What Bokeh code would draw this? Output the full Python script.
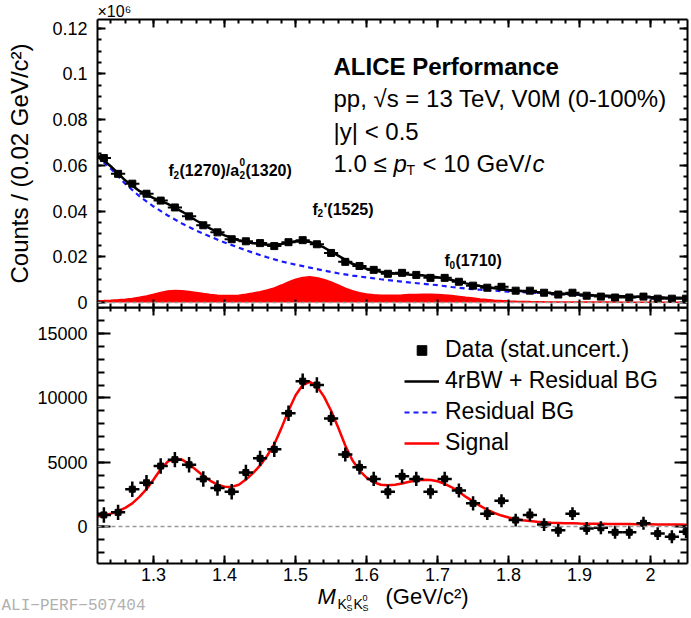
from bokeh.plotting import figure
from bokeh.models import (Range1d, LinearAxis, SingleIntervalTicker, CustomJSTickFormatter,
                          Span, Label, Legend, LegendItem, Title, Plot)
from bokeh.layouts import column
from bokeh.embed import file_html
from bokeh.resources import INLINE

# ---------------- data ----------------
mass = [1.23, 1.25, 1.27, 1.29, 1.31, 1.33, 1.35, 1.37, 1.39, 1.41, 1.43, 1.45, 1.47, 1.49,
        1.51, 1.53, 1.55, 1.57, 1.59, 1.61, 1.63, 1.65, 1.67, 1.69, 1.71, 1.73, 1.75, 1.77,
        1.79, 1.81, 1.83, 1.85, 1.87, 1.89, 1.91, 1.93, 1.95, 1.97, 1.99, 2.01, 2.03, 2.05]
bin_half = 0.01

# top panel: counts per bin, in units of 10^6
counts = [0.0632, 0.0563, 0.0520, 0.0476, 0.0446, 0.0416, 0.0377, 0.0338, 0.0307, 0.0277,
          0.0268, 0.0260, 0.0247, 0.0264, 0.0273, 0.0255, 0.0217, 0.0178, 0.0160, 0.0143,
          0.0126, 0.0130, 0.0121, 0.0108, 0.0108, 0.0091, 0.0074, 0.0065, 0.0069, 0.0052,
          0.0052, 0.0043, 0.0035, 0.0043, 0.0030, 0.0026, 0.0022, 0.0022, 0.0026, 0.0017,
          0.0017, 0.0017]

# bottom panel: residual (data - residual BG)
residual = [900, 1100, 2900, 3400, 4700, 5200, 4800, 3700, 3000, 2700, 4200, 5300, 6000, 8800,
            11300, 11000, 8400, 5600, 4600, 3700, 2700, 3900, 3700, 2700, 3700, 2800, 1800, 1000,
            2000, 500, 900, 150, -300, 1000, -150, -100, -450, -450, 250, -550, -800, -400]
residual_err = [600, 600, 600, 600, 600, 600, 600, 600, 600, 600, 600, 600, 600, 600,
                600, 600, 550, 550, 550, 550, 550, 550, 550, 550, 550, 550, 550, 500,
                500, 500, 500, 500, 500, 500, 500, 500, 500, 500, 500, 500, 500, 500]

# residual background fit (units of 10^6)
bg_x = [1.22, 1.24, 1.26, 1.28, 1.30, 1.32, 1.34, 1.36, 1.38, 1.40, 1.42, 1.44, 1.46, 1.48,
        1.50, 1.52, 1.54, 1.56, 1.58, 1.60, 1.62, 1.64, 1.66, 1.68, 1.70, 1.72, 1.74, 1.76,
        1.78, 1.80, 1.82, 1.84, 1.86, 1.88, 1.90, 1.92, 1.94, 1.96, 1.98, 2.00, 2.02, 2.04, 2.06]
bg_fit = [0.0640, 0.0585, 0.0520, 0.0465, 0.0420, 0.0381, 0.0346, 0.0315, 0.0288, 0.0263,
          0.0240, 0.0218, 0.0198, 0.0180, 0.0166, 0.0153, 0.0140, 0.0128, 0.0118, 0.0110,
          0.0102, 0.0095, 0.0088, 0.0082, 0.0076, 0.0068, 0.0061, 0.0056, 0.0052, 0.0048,
          0.0045, 0.0042, 0.0039, 0.0036, 0.0033, 0.0030, 0.0028, 0.0026, 0.0024, 0.0022,
          0.0020, 0.0019, 0.0018]

# signal (4 rBW) fit, counts
sig_x = [1.22, 1.23, 1.24, 1.25, 1.26, 1.27, 1.28, 1.29, 1.30, 1.31, 1.32, 1.33, 1.34, 1.35,
         1.36, 1.37, 1.38, 1.39, 1.40, 1.41, 1.42, 1.43, 1.44, 1.45, 1.46, 1.47, 1.48, 1.49,
         1.50, 1.51, 1.52, 1.53, 1.54, 1.55, 1.56, 1.57, 1.58, 1.59, 1.60, 1.61, 1.62, 1.63,
         1.64, 1.65, 1.66, 1.67, 1.68, 1.69, 1.70, 1.71, 1.72, 1.73, 1.74, 1.75, 1.76, 1.77,
         1.78, 1.79, 1.80, 1.81, 1.82, 1.83, 1.84, 1.85, 1.86, 1.87, 1.88, 1.89, 1.90, 1.91,
         1.92, 1.93, 1.94, 1.95, 1.96, 1.97, 1.98, 1.99, 2.00, 2.01, 2.02, 2.03, 2.04, 2.05, 2.06]
sig_fit = [750, 850, 1000, 1200, 1450, 1800, 2300, 2900, 3650, 4450, 5050, 5300, 5200, 4850,
           4400, 3950, 3550, 3250, 3100, 3080, 3250, 3650, 4150, 4750, 5500, 6400, 7650, 9000,
           10200, 11000, 11250, 10900, 10100, 9000, 7700, 6300, 5150, 4350, 3800, 3450, 3250, 3200,
           3250, 3350, 3480, 3580, 3630, 3620, 3520, 3320, 3050, 2700, 2300, 1950, 1600, 1300,
           1050, 850, 700, 580, 490, 420, 370, 330, 300, 280, 260, 245, 230, 220,
           210, 205, 200, 195, 190, 185, 180, 175, 170, 165, 160, 155, 150, 145, 140]

y_tick_top = 0.02
y_tick_bottom = 5000
x_tick = 0.1

# ---------------- geometry ----------------
W = 690
LEFT, RIGHT = 97, 3
X0, X1 = 1.221, 2.052
FRAME_L = 98
PXX = 590 / (X1 - X0)
YT0, YT1 = -0.00216, 0.1238     # top panel range (x10^6)
YB0, YB1 = -2877, 17030         # bottom panel range
FONT = "Liberation Sans"
OVER = 8                        # overlap of top canvas into bottom panel (for the "0" label)
OVER3 = 6                       # overlap of the title strip into the bottom panel border
HAS_FA = "frame_align" in Plot.properties()


def dx(px):
    return X0 + (px - FRAME_L) / PXX


def dyt(py):
    return YT1 - (py - 17) * (YT1 - YT0) / 291


def style_axis(ax, major, minor, labels=True, size="18px", standoff=10):
    ax.axis_line_width = 2
    ax.axis_line_color = "black"
    ax.major_tick_in = major
    ax.major_tick_out = 0
    ax.minor_tick_in = minor
    ax.minor_tick_out = 0
    ax.major_tick_line_width = 2
    ax.minor_tick_line_width = 2
    ax.major_tick_line_color = "black"
    ax.minor_tick_line_color = "black"
    ax.major_label_text_font = FONT
    ax.major_label_text_color = "black"
    if labels:
        ax.major_label_text_font_size = size
        ax.major_label_standoff = standoff
    else:
        ax.major_label_text_font_size = "0px"
        ax.major_label_standoff = 0
        ax.major_label_text_alpha = 0


fmt2 = CustomJSTickFormatter(code="return tick.toFixed(2).replace(/\\.?0+$/, '');")
fmt1 = CustomJSTickFormatter(code="return tick.toFixed(1).replace(/\\.?0+$/, '');")


def lab(fig, x, y, text, size, style="normal", color="black", font=FONT):
    fig.add_layout(Label(x=x, y=y, text=text, text_font=font,
                         text_font_size=f"{size}px", text_font_style=style,
                         text_color=color, text_baseline="alphabetic", text_align="left"))


def labt(xpx, ypx, text, size, style="normal"):
    lab(p1, dx(xpx), dyt(ypx), text, size, style)


# ---------------- top panel ----------------
p1 = figure(width=W, height=307 + OVER, x_range=Range1d(X0, X1), y_range=Range1d(YT0, YT1),
            output_backend="svg", toolbar_location=None,
            min_border_left=LEFT, min_border_right=RIGHT, min_border_top=16,
            min_border_bottom=OVER)
p1.grid.visible = False
p1.outline_line_color = None
p1.background_fill_color = "white"
p1.border_fill_color = "white"

xt = SingleIntervalTicker(interval=x_tick, num_minor_ticks=5)
yt1 = SingleIntervalTicker(interval=y_tick_top, num_minor_ticks=4)
p1.xaxis.ticker = xt
p1.yaxis.ticker = yt1
p1.yaxis.formatter = fmt2
style_axis(p1.xaxis[0], 8, 4, labels=False)
style_axis(p1.yaxis[0], 8, 4, labels=True)
p1.yaxis.axis_label = "Counts / (0.02 GeV/c²)"
p1.yaxis.axis_label_text_font = FONT
p1.yaxis.axis_label_text_font_size = "24px"
p1.yaxis.axis_label_text_font_style = "normal"
p1.yaxis.axis_label_text_color = "black"
p1.yaxis.axis_label_standoff = 16
ax_r1 = LinearAxis(ticker=yt1)
style_axis(ax_r1, 8, 4, labels=False)
p1.add_layout(ax_r1, "right")
ax_t1 = LinearAxis(ticker=xt)
style_axis(ax_t1, 8, 4, labels=False)
p1.add_layout(ax_t1, "above")
p1.add_layout(Title(text="×10⁶", align="left", text_font=FONT, text_font_size="16px",
                    text_font_style="normal", text_color="black", standoff=0,
                    text_line_height=1.0), "above")

p1.add_layout(Span(location=0, dimension="width", line_color="#999999", line_dash="4 3",
                   line_width=1.5))

sig_top = [s / 1e6 for s in sig_fit]
p1.varea(x=sig_x, y1=[0] * len(sig_x), y2=sig_top, fill_color="#ff0000")
p1.line(x=sig_x, y=sig_top, line_color="#ff0000", line_width=1.5)

p1.line(x=bg_x, y=bg_fit, line_color="#1a1aff", line_width=2.2, line_dash="5 4")
total_fit = [b + s / 1e6 for b, s in zip(bg_fit, sig_fit[::2])]
p1.line(x=bg_x, y=total_fit, line_color="black", line_width=2.5)

p1.segment(x0=[m - bin_half for m in mass], x1=[m + bin_half for m in mass],
           y0=counts, y1=counts, line_color="black", line_width=2)
p1.segment(x0=mass, x1=mass, y0=[c - e / 1e6 for c, e in zip(counts, residual_err)],
           y1=[c + e / 1e6 for c, e in zip(counts, residual_err)], line_color="black", line_width=2)
p1.scatter(x=mass, y=counts, marker="square", size=7, fill_color="black", line_color="black")

# texts top panel
labt(334, 64, "ALICE Performance", 24, "bold")
labt(334, 97, "pp, √s = 13 TeV, V0M (0-100%)", 24)
labt(334, 130, "|y| < 0.5", 24)
labt(334, 163, "1.0 ≤", 24)
labt(394, 163, "p", 24, "italic")
labt(407, 169, "T", 14)
labt(423, 163, "< 10 GeV/", 24)
labt(533, 163, "c", 24, "italic")

labt(169, 170, "f", 16, "bold")
labt(174, 174, "2", 10, "bold")
labt(180, 170, "(1270)/a", 16, "bold")
labt(240, 161, "0", 10, "bold")
labt(240, 174, "2", 10, "bold")
labt(246, 170, "(1320)", 16, "bold")

labt(313, 209, "f", 16, "bold")
labt(318, 213, "2", 10, "bold")
labt(324, 209, "'(1525)", 16, "bold")

labt(445, 261, "f", 16, "bold")
labt(450, 265, "0", 10, "bold")
labt(456, 261, "(1710)", 16, "bold")

# ---------------- bottom panel ----------------
p2 = figure(width=W, height=281, x_range=p1.x_range, y_range=Range1d(YB0, YB1),
            output_backend="svg", toolbar_location=None,
            min_border_left=LEFT, min_border_right=RIGHT, min_border_top=0, min_border_bottom=25)
p2.grid.visible = False
p2.outline_line_color = None
p2.background_fill_alpha = 0
p2.border_fill_alpha = 0
p2.margin = (-OVER, 0, 0, 0)
p2.extra_y_ranges = {"hidden": Range1d(-2, -1)}

xt2 = SingleIntervalTicker(interval=x_tick, num_minor_ticks=5)
yt2 = SingleIntervalTicker(interval=y_tick_bottom, num_minor_ticks=5)
p2.xaxis.ticker = xt2
p2.xaxis.formatter = fmt1
p2.yaxis.ticker = yt2
style_axis(p2.xaxis[0], 8, 4, labels=True, standoff=4)
style_axis(p2.yaxis[0], 13, 7, labels=True)
ax_r2 = LinearAxis(ticker=yt2)
style_axis(ax_r2, 13, 7, labels=False)
p2.add_layout(ax_r2, "right")
ax_t2 = LinearAxis(ticker=xt2)
style_axis(ax_t2, 8, 4, labels=False)
p2.add_layout(ax_t2, "above")

p2.add_layout(Span(location=0, dimension="width", line_color="#999999", line_dash="4 3",
                   line_width=1.5))

r_sig = p2.line(x=sig_x, y=sig_fit, line_color="#ff0000", line_width=2.5)
# fit curves of the top panel, registered here (out of view) only for the legend
r_tot = p2.line(x=bg_x, y=total_fit, y_range_name="hidden", line_color="black", line_width=2.5)
r_bg = p2.line(x=bg_x, y=bg_fit, y_range_name="hidden", line_color="#1a1aff",
               line_width=2.2, line_dash="5 4")

p2.segment(x0=[m - bin_half for m in mass], x1=[m + bin_half for m in mass],
           y0=residual, y1=residual, line_color="black", line_width=2.5)
p2.segment(x0=mass, x1=mass, y0=[r - e for r, e in zip(residual, residual_err)],
           y1=[r + e for r, e in zip(residual, residual_err)], line_color="black", line_width=2.5)
r_dat = p2.scatter(x=mass, y=residual, marker="square", size=6, fill_color="black",
                   line_color="black")

legend = Legend(items=[LegendItem(label="Data (stat.uncert.)", renderers=[r_dat]),
                       LegendItem(label="4rBW + Residual BG", renderers=[r_tot]),
                       LegendItem(label="Residual BG", renderers=[r_bg]),
                       LegendItem(label="Signal", renderers=[r_sig])],
                location=(307, 107))
legend.label_text_font = FONT
legend.label_text_font_size = "23px"
legend.label_text_color = "black"
legend.glyph_width = 35
legend.glyph_height = 24
legend.label_height = 24
legend.label_standoff = 6
legend.spacing = 4
legend.padding = 0
legend.margin = 0
legend.border_line_alpha = 0
legend.background_fill_alpha = 0
p2.add_layout(legend)

# ---------------- x-axis title strip (transparent, overlaps the tick-label border) ----------------
TOP3 = 589 - OVER3
if HAS_FA:
    strip_x = Range1d(1, 691)
else:
    strip_x = Range1d(98, 688)
p3 = figure(width=W, height=28 + OVER3, x_range=strip_x, y_range=Range1d(617, TOP3),
            output_backend="svg", toolbar_location=None,
            x_axis_location=None, y_axis_location=None,
            min_border_left=0, min_border_right=0, min_border_top=0, min_border_bottom=0)
if HAS_FA:
    p3.frame_align = False
p3.grid.visible = False
p3.outline_line_color = None
p3.background_fill_alpha = 0
p3.border_fill_alpha = 0
p3.margin = (-OVER3, 0, 0, 0)

lab(p3, 318, 597, "M", 22, "italic")
lab(p3, 338, 604, "K", 14)
lab(p3, 347, 598, "0", 9)
lab(p3, 347, 608, "S", 9)
lab(p3, 354, 604, "K", 14)
lab(p3, 363, 598, "0", 9)
lab(p3, 363, 608, "S", 9)
lab(p3, 386, 597, "(GeV/c²)", 22)
lab(p3, 2 if HAS_FA else 98, 606, "ALI−PERF−507404", 16, color="#b0b0b0",
    font="Liberation Mono")

layout = column(p1, p2, p3, spacing=0)
open("out.html", "w").write(file_html(layout, INLINE))
